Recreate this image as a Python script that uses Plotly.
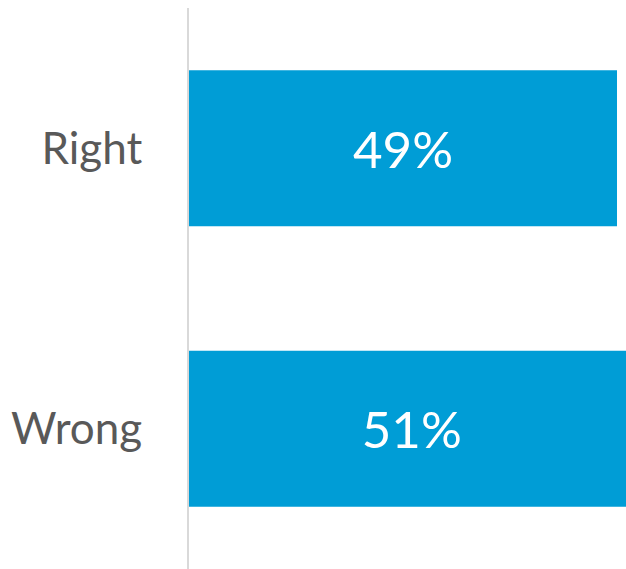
import plotly.graph_objects as go

# survey answers, share of respondents (%)
categories = ["Right", "Wrong"]
values = [49, 51]
labels = [f"{v}%" for v in values]

BAR_COLOR = "#009DD6"
FONT = "Lato"

fig = go.Figure(
    go.Bar(
        x=values,
        y=categories,
        orientation="h",
        text=labels,
        textposition="inside",
        insidetextanchor="middle",
        textfont=dict(family=FONT, size=51, color="white"),
        marker=dict(color=BAR_COLOR, line=dict(width=0)),
        hoverinfo="skip",
    )
)

fig.update_layout(
    width=626,
    height=569,
    margin=dict(l=189, r=0, t=8, b=0),
    paper_bgcolor="white",
    plot_bgcolor="white",
    bargap=0.444,
    showlegend=False,
)
# the source chart is cropped on the right, so the 51% bar runs off the edge
fig.update_xaxes(visible=False, range=[0, 50.03], fixedrange=True)
fig.update_yaxes(
    autorange="reversed",
    fixedrange=True,
    showline=True,
    linecolor="#D9D9D9",
    linewidth=2,
    showgrid=False,
    ticks="",
    ticklabelstandoff=36,
    tickfont=dict(family=FONT, size=44, color="#595959"),
)

# drop the default body margin so the figure sits flush in the window
fig.write_html(
    "out.html",
    config={"displayModeBar": False},
    post_script="document.body.style.margin='0';",
)
